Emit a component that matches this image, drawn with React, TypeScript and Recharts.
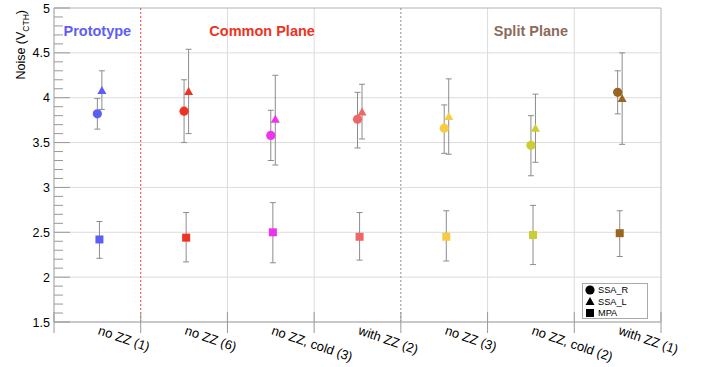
import { ComposedChart, Scatter, ErrorBar, XAxis, YAxis, ReferenceLine, ReferenceArea } from 'recharts'

const categories = ['no ZZ (1)', 'no ZZ (6)', 'no ZZ, cold (3)', 'with ZZ (2)', 'no ZZ (3)', 'no ZZ, cold (2)', 'with ZZ (1)']
const colors = ['#5e5ef7', '#ee3322', '#ee33ee', '#ee6666', '#f6cc44', '#cccc33', '#996622']

const ssaR = [3.82, 3.85, 3.58, 3.76, 3.66, 3.47, 4.06]
const ssaRLo = [0.17, 0.35, 0.28, 0.32, 0.28, 0.34, 0.24]
const ssaRHi = [0.17, 0.35, 0.28, 0.30, 0.26, 0.33, 0.24]

const ssaL = [4.08, 4.07, 3.76, 3.84, 3.79, 3.66, 3.99]
const ssaLLo = [0.21, 0.47, 0.51, 0.30, 0.42, 0.38, 0.51]
const ssaLHi = [0.22, 0.47, 0.49, 0.31, 0.42, 0.38, 0.51]

const mpa = [2.42, 2.44, 2.50, 2.45, 2.45, 2.47, 2.49]
const mpaLo = [0.21, 0.27, 0.34, 0.26, 0.27, 0.33, 0.26]
const mpaHi = [0.20, 0.28, 0.33, 0.27, 0.29, 0.33, 0.25]

const xTicks = [0, 0.5, 1, 1.5, 2, 2.5, 3, 3.5, 4, 4.5, 5, 5.5, 6, 6.5, 7]
const yMajor = [1.5, 2, 2.5, 3, 3.5, 4, 4.5, 5]
const yTicks = [1.5, 1.6, 1.7, 1.8, 1.9, 2, 2.1, 2.2, 2.3, 2.4, 2.5, 2.6, 2.7, 2.8, 2.9, 3, 3.1, 3.2, 3.3, 3.4, 3.5, 3.6, 3.7, 3.8, 3.9, 4, 4.1, 4.2, 4.3, 4.4, 4.5, 4.6, 4.7, 4.8, 4.9, 5]

const groups = [
  { name: 'Prototype', from: 0, to: 1, color: '#5e5ef7' },
  { name: 'Common Plane', from: 1, to: 3.8, color: '#ee3322' },
  { name: 'Split Plane', from: 4, to: 7, color: '#8b6b5b' },
]
const legendItems = [
  { name: 'SSA_R', shape: 'circle' },
  { name: 'SSA_L', shape: 'triangle' },
  { name: 'MPA', shape: 'square' },
]

const FONT = '"Liberation Sans", Arial, Helvetica, sans-serif'

const build = (vals: number[], lo: number[], hi: number[], shift: number) =>
  vals.map((y, i) => ({ x: i + 0.5 + shift, y, err: [lo[i], hi[i]], color: colors[i] }))

const circleData = build(ssaR, ssaRLo, ssaRHi, 0)
const triData = build(ssaL, ssaLLo, ssaLHi, 0.052)
const squareData = build(mpa, mpaLo, mpaHi, 0.024)

const Marker = ({ shape, cx, cy, fill }: any) => {
  if (shape === 'circle') return <circle cx={cx} cy={cy} r={4.6} fill={fill} />
  if (shape === 'triangle') return <polygon points={`${cx},${cy - 4.5} ${cx - 4.5},${cy + 3.5} ${cx + 4.5},${cy + 3.5}`} fill={fill} />
  return <rect x={cx - 4} y={cy - 4} width={8} height={8} fill={fill} />
}

const YTick = ({ x, y, payload }: any) => {
  const v = payload.value
  const major = yMajor.some(m => Math.abs(m - v) < 1e-6)
  return (
    <g>
      <line x1={x} x2={x + (major ? 16 : 9)} y1={y} y2={y} stroke="#999" />
      {major && <text x={x - 4} y={y} dy={4.5} textAnchor="end" fontSize={12.5} fontFamily={FONT} fill="#000">{v}</text>}
    </g>
  )
}

const XTick = ({ x, y, payload }: any) => {
  const v = payload.value
  if (Number.isInteger(v)) return <line x1={x} x2={x} y1={y - 10} y2={y + 11} stroke="#999" />
  return (
    <text transform={`translate(${x},${y + 12}) rotate(19)`} fontSize={13} fontFamily={FONT} fill="#000">
      {categories[Math.floor(v)]}
    </text>
  )
}

export default function App() {
  return (
    <div style={{ position: 'absolute', left: 0, top: 0, width: 702, height: 367, background: '#fff', fontFamily: FONT }}>
      <ComposedChart width={702} height={367} margin={{ top: 8, right: 41, bottom: 0, left: 0 }}>
        <XAxis type="number" dataKey="x" domain={[0, 7]} ticks={xTicks} interval={0} height={45}
          tickSize={0} tickMargin={0} tickLine={false} axisLine={{ stroke: '#c8c8c8', strokeWidth: 2 }} tick={<XTick />} />
        <YAxis type="number" dataKey="y" domain={[1.5, 5]} ticks={yTicks} interval={0} width={54}
          tickSize={0} tickMargin={0} tickLine={false} axisLine={{ stroke: '#999' }} tick={<YTick />} />
        {[2, 2.5, 3, 3.5, 4, 4.5].map(v => <ReferenceLine key={'h' + v} y={v} stroke="#dcdcdc" />)}
        {[2, 3, 5, 6].map(v => <ReferenceLine key={'v' + v} x={v} stroke="#dcdcdc" />)}
        <ReferenceLine y={5} stroke="#b4b4b4" />
        <ReferenceLine x={7} stroke="#b4b4b4" />
        <ReferenceLine x={1} stroke="#ee4444" strokeDasharray="2 2" />
        <ReferenceLine x={4} stroke="#9a8a80" strokeDasharray="2 2" />
        {groups.map(g => (
          <ReferenceArea key={g.name} x1={g.from} x2={g.to} y1={4.5} y2={5} fill="none" stroke="none"
            label={{ value: g.name, position: 'center', fill: g.color, fontSize: 14.5, fontWeight: 'bold', fontFamily: FONT }} />
        ))}
        <Scatter data={circleData} isAnimationActive={false} shape={(p: any) => <Marker shape="circle" cx={p.cx} cy={p.cy} fill={p.payload.color} />}>
          <ErrorBar dataKey="err" direction="y" width={3} stroke="#8c8c8c" strokeWidth={1} />
        </Scatter>
        <Scatter data={triData} isAnimationActive={false} shape={(p: any) => <Marker shape="triangle" cx={p.cx} cy={p.cy} fill={p.payload.color} />}>
          <ErrorBar dataKey="err" direction="y" width={3} stroke="#8c8c8c" strokeWidth={1} />
        </Scatter>
        <Scatter data={squareData} isAnimationActive={false} shape={(p: any) => <Marker shape="square" cx={p.cx} cy={p.cy} fill={p.payload.color} />}>
          <ErrorBar dataKey="err" direction="y" width={3} stroke="#8c8c8c" strokeWidth={1} />
        </Scatter>
      </ComposedChart>

      <svg width={40} height={90} style={{ position: 'absolute', left: 0, top: 0 }}>
        <text transform="translate(25,10) rotate(-90)" textAnchor="end" fontSize={12.5} fontFamily={FONT} fill="#000">
          Noise (V<tspan fontSize={8.5} dy={4}>CTH</tspan><tspan dy={-4}>)</tspan>
        </text>
      </svg>

      <div style={{ position: 'absolute', left: 582, top: 283, width: 64, height: 34, border: '1px solid #aaa', background: '#fff' }}>
        <svg width={64} height={34}>
          {legendItems.map((it, i) => (
            <g key={it.name}>
              <Marker shape={it.shape} cx={7} cy={6 + i * 11.5} fill="#000" />
              <text x={15} y={6 + i * 11.5} dy={3.3} fontSize={9.2} fontFamily={FONT} fill="#000">{it.name}</text>
            </g>
          ))}
        </svg>
      </div>
    </div>
  )
}
